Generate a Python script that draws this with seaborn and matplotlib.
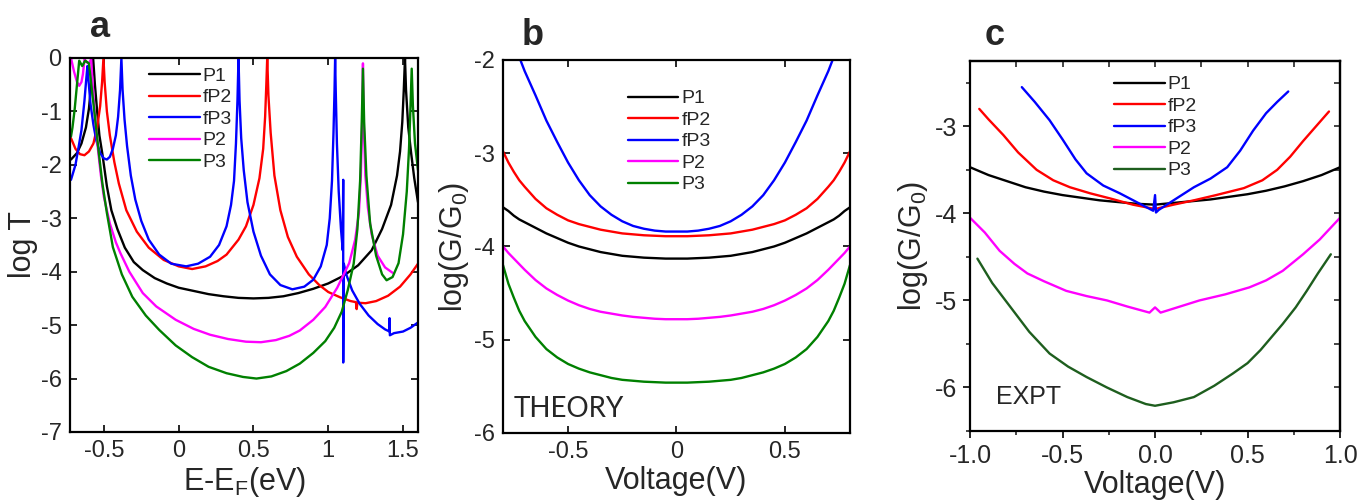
import numpy as np
import pandas as pd
import matplotlib
matplotlib.use("Agg")
import matplotlib.pyplot as plt
from matplotlib.ticker import MultipleLocator, FormatStrFormatter
import seaborn as sns

# ==========================
# data
# ==========================
labels = ["P1", "fP2", "fP3", "P2", "P3"]
colors_ab = ["#000000", "#ff0000", "#0000ff", "#ff00ff", "#008000"]
colors_c = ["#000000", "#ff0000", "#0000ff", "#ff00ff", "#1e5e1e"]

# panel a : log T vs E-EF
a_p1_x = [-0.72, -0.68, -0.65, -0.62, -0.60, -0.585, -0.572, -0.56, -0.545, -0.53, -0.51, -0.48, -0.45,
          -0.41, -0.36, -0.30, -0.24, -0.16, -0.08, 0.0, 0.1, 0.2, 0.3, 0.4, 0.5, 0.6, 0.7, 0.8, 0.9,
          1.0, 1.1, 1.2, 1.29, 1.36, 1.42, 1.46, 1.48, 1.495, 1.505, 1.513, 1.52, 1.535, 1.555, 1.575, 1.6]
a_p1_y = [-1.9, -1.78, -1.6, -1.3, -0.95, -0.5, 0.0, -0.5, -1.0, -1.45, -1.8, -2.4, -2.85,
          -3.2, -3.55, -3.82, -3.97, -4.12, -4.22, -4.3, -4.36, -4.42, -4.46, -4.49, -4.5, -4.49, -4.46, -4.4, -4.32,
          -4.22, -4.08, -3.88, -3.6, -3.2, -2.75, -2.2, -1.75, -1.2, -0.6, 0.0, -0.6, -1.3, -1.8, -2.25, -2.7]

a_fp2_x = [-0.72, -0.69, -0.66, -0.63, -0.60, -0.57, -0.545, -0.525, -0.512, -0.503, -0.495, -0.48, -0.46,
           -0.43, -0.40, -0.35, -0.28, -0.2, -0.1, 0.0, 0.09, 0.18, 0.26, 0.32, 0.40, 0.45, 0.50, 0.54,
           0.565, 0.578, 0.586, 0.592, 0.60, 0.615, 0.64, 0.68, 0.73, 0.79, 0.87, 0.94, 1.0, 1.08, 1.15,
           1.185, 1.19, 1.195, 1.25, 1.32, 1.4, 1.48, 1.55, 1.6]
a_fp2_y = [-1.5, -1.7, -1.8, -1.82, -1.75, -1.6, -1.3, -0.9, -0.45, 0.0, -0.45, -1.0, -1.45,
           -1.95, -2.35, -2.85, -3.25, -3.55, -3.78, -3.9, -3.95, -3.9, -3.8, -3.68, -3.4, -3.15, -2.75, -2.25,
           -1.7, -1.1, -0.5, 0.0, -0.7, -1.4, -2.2, -2.85, -3.35, -3.72, -4.05, -4.25, -4.38, -4.48, -4.55,
           -4.57, -4.7, -4.58, -4.59, -4.55, -4.45, -4.28, -4.05, -3.85]

a_fp3_x = [-0.72, -0.69, -0.665, -0.65, -0.63, -0.618, -0.61, -0.602, -0.59, -0.57, -0.55, -0.525, -0.5,
           -0.48, -0.46, -0.44, -0.42, -0.405, -0.392, -0.383, -0.375, -0.362, -0.345, -0.32, -0.29, -0.25,
           -0.2, -0.13, -0.05, 0.05, 0.13, 0.21, 0.27, 0.32, 0.35, 0.37, 0.383, 0.393, 0.4, 0.407, 0.418,
           0.435, 0.46, 0.5, 0.55, 0.61, 0.68, 0.76, 0.84, 0.9, 0.95, 0.99, 1.01, 1.025, 1.035, 1.042,
           1.046, 1.05, 1.058, 1.07, 1.085, 1.097, 1.1, 1.1, 1.104, 1.12, 1.16, 1.21, 1.27, 1.33, 1.38,
           1.41, 1.41, 1.412, 1.44, 1.5, 1.55, 1.6]
a_fp3_y = [-2.28, -2.0, -1.6, -1.35, -0.8, -0.4, -0.15, -0.45, -0.85, -1.25, -1.55, -1.78, -1.88,
           -1.9, -1.85, -1.7, -1.45, -1.1, -0.6, 0.0, -0.6, -1.15, -1.65, -2.2, -2.65, -3.05,
           -3.4, -3.68, -3.85, -3.9, -3.85, -3.72, -3.5, -3.15, -2.75, -2.3, -1.6, -0.8, 0.0, -0.8, -1.5,
           -2.1, -2.7, -3.25, -3.7, -4.05, -4.25, -4.33, -4.28, -4.15, -3.9, -3.5, -3.0, -2.3, -1.4, -0.6,
           0.0, -0.6, -1.6, -2.5, -3.2, -3.6, -2.28, -5.7, -3.85, -4.05, -4.35, -4.6, -4.82, -4.98, -5.08,
           -5.12, -4.87, -5.19, -5.15, -5.12, -5.05, -4.95]

a_p2_x = [-0.72, -0.70, -0.68, -0.665, -0.65, -0.64, -0.63, -0.615, -0.6, -0.585, -0.575, -0.56, -0.54,
          -0.52, -0.5, -0.46, -0.42, -0.39, -0.33, -0.24, -0.15, -0.02, 0.1, 0.21, 0.33, 0.45, 0.55, 0.65,
          0.74, 0.81, 0.9, 0.98, 1.06, 1.14, 1.18, 1.205, 1.218, 1.226, 1.232, 1.238, 1.248, 1.265, 1.29,
          1.33, 1.38, 1.43]
a_p2_y = [0.0, -0.25, -0.45, -0.52, -0.45, -0.3, -0.02, -0.08, -0.1, -0.02, -0.5, -1.1, -1.7,
          -2.2, -2.6, -3.1, -3.45, -3.65, -4.0, -4.4, -4.65, -4.9, -5.07, -5.18, -5.26, -5.31, -5.32, -5.28,
          -5.2, -5.1, -4.9, -4.66, -4.3, -3.84, -3.4, -2.9, -2.2, -1.3, -0.1, -1.3, -2.2, -2.8, -3.3,
          -3.7, -3.92, -4.02]

a_p3_x = [-0.72, -0.71, -0.695, -0.68, -0.665, -0.645, -0.625, -0.60, -0.58, -0.56, -0.535, -0.51, -0.48,
          -0.44, -0.38, -0.31, -0.22, -0.13, -0.02, 0.09, 0.2, 0.32, 0.43, 0.52, 0.62, 0.72, 0.81, 0.9,
          0.98, 1.04, 1.09, 1.13, 1.17, 1.195, 1.213, 1.224, 1.232, 1.24, 1.255, 1.28, 1.32, 1.36, 1.39,
          1.43, 1.47, 1.5, 1.525, 1.54, 1.55, 1.558, 1.566, 1.58, 1.6]
a_p3_y = [-1.47, -1.3, -0.95, -0.5, -0.05, -0.15, -0.05, -0.1, -0.6, -1.1, -1.75, -2.35, -2.9,
          -3.54, -4.05, -4.47, -4.82, -5.09, -5.38, -5.6, -5.78, -5.9, -5.97, -6.0, -5.96, -5.86, -5.72, -5.52,
          -5.3, -5.05, -4.75, -4.35, -3.85, -3.2, -2.3, -1.2, -0.2, -1.2, -2.2, -3.1, -3.7, -4.05, -4.16,
          -4.1, -3.84, -3.3, -2.5, -1.7, -0.9, -0.2, -0.9, -1.6, -2.1]

# panel b : theory log(G/G0) vs voltage
b_x = [-0.8, -0.775, -0.75, -0.725, -0.7, -0.65, -0.6, -0.55, -0.5, -0.45, -0.4, -0.35, -0.3, -0.25,
       -0.2, -0.15, -0.1, -0.05, 0.0, 0.05, 0.1, 0.15, 0.2, 0.25, 0.3, 0.35, 0.4, 0.45, 0.5, 0.55,
       0.6, 0.65, 0.7, 0.725, 0.75, 0.775, 0.8]
b_p1 = [-3.58, -3.62, -3.67, -3.71, -3.74, -3.8, -3.86, -3.91, -3.96, -4.0, -4.03, -4.06, -4.08, -4.1,
        -4.11, -4.12, -4.125, -4.13, -4.13, -4.13, -4.125, -4.12, -4.11, -4.1, -4.08, -4.06, -4.03, -4.0,
        -3.96, -3.91, -3.86, -3.8, -3.74, -3.71, -3.67, -3.62, -3.58]
b_fp2 = [-2.98, -3.1, -3.2, -3.29, -3.36, -3.49, -3.59, -3.66, -3.72, -3.76, -3.79, -3.82, -3.84, -3.86,
         -3.87, -3.88, -3.885, -3.89, -3.89, -3.89, -3.885, -3.88, -3.87, -3.86, -3.84, -3.82, -3.79, -3.76,
         -3.72, -3.66, -3.59, -3.49, -3.36, -3.29, -3.2, -3.1, -2.98]
b_fp3_x = [-0.72, -0.7, -0.65, -0.6, -0.55, -0.5, -0.45, -0.4, -0.35, -0.3, -0.25, -0.2, -0.15, -0.1,
           -0.05, 0.0, 0.05, 0.1, 0.15, 0.2, 0.25, 0.3, 0.35, 0.4, 0.45, 0.5, 0.55, 0.6, 0.65, 0.7, 0.72]
b_fp3 = [-2.0, -2.12, -2.38, -2.65, -2.88, -3.1, -3.29, -3.45, -3.57, -3.66, -3.73, -3.78, -3.81, -3.83,
         -3.84, -3.84, -3.84, -3.83, -3.81, -3.78, -3.73, -3.66, -3.57, -3.45, -3.29, -3.1, -2.88, -2.65,
         -2.38, -2.12, -2.0]
b_p2 = [-4.0, -4.07, -4.13, -4.19, -4.25, -4.36, -4.45, -4.52, -4.58, -4.63, -4.67, -4.7, -4.72, -4.74,
        -4.755, -4.765, -4.775, -4.78, -4.78, -4.78, -4.775, -4.765, -4.755, -4.74, -4.72, -4.7, -4.67,
        -4.63, -4.58, -4.52, -4.45, -4.36, -4.25, -4.19, -4.13, -4.07, -4.0]
b_p3 = [-4.2, -4.4, -4.55, -4.69, -4.8, -4.97, -5.1, -5.19, -5.26, -5.31, -5.35, -5.38, -5.41, -5.43,
        -5.44, -5.45, -5.455, -5.46, -5.46, -5.46, -5.455, -5.45, -5.44, -5.43, -5.41, -5.38, -5.35,
        -5.31, -5.26, -5.19, -5.1, -4.97, -4.8, -4.69, -4.55, -4.4, -4.2]

# panel c : experiment log(G/G0) vs voltage
c_p1_x = [-1.0, -0.9, -0.8, -0.7, -0.6, -0.5, -0.4, -0.3, -0.2, -0.1, 0.0,
          0.1, 0.2, 0.3, 0.4, 0.5, 0.6, 0.7, 0.8, 0.9, 1.0]
c_p1 = [-3.47, -3.56, -3.63, -3.7, -3.75, -3.79, -3.82, -3.85, -3.87, -3.89, -3.9,
        -3.88, -3.86, -3.84, -3.81, -3.78, -3.74, -3.69, -3.63, -3.56, -3.47]
c_fp2_x = [-0.95, -0.9, -0.82, -0.74, -0.64, -0.55, -0.46, -0.35, -0.24, -0.12, 0.0,
           0.1, 0.21, 0.33, 0.48, 0.58, 0.66, 0.73, 0.8, 0.87, 0.94]
c_fp2 = [-2.8, -2.92, -3.1, -3.3, -3.5, -3.62, -3.7, -3.77, -3.83, -3.9, -3.95,
         -3.9, -3.85, -3.79, -3.71, -3.62, -3.5, -3.35, -3.17, -3.0, -2.83]
c_fp3_x = [-0.72, -0.65, -0.57, -0.5, -0.43, -0.37, -0.28, -0.19, -0.1, -0.01, 0.0, 0.005,
           0.02, 0.1, 0.21, 0.3, 0.39, 0.46, 0.53, 0.6, 0.66, 0.72]
c_fp3 = [-2.55, -2.72, -2.93, -3.15, -3.38, -3.54, -3.68, -3.77, -3.87, -3.97, -3.79, -3.99,
         -3.96, -3.85, -3.7, -3.6, -3.47, -3.28, -3.05, -2.85, -2.72, -2.6]
c_p2_x = [-1.0, -0.92, -0.84, -0.76, -0.69, -0.6, -0.48, -0.37, -0.26, -0.15, -0.03, 0.0, 0.03,
          0.12, 0.24, 0.38, 0.51, 0.6, 0.69, 0.8, 0.89, 1.0]
c_p2 = [-4.05, -4.22, -4.43, -4.58, -4.69, -4.78, -4.89, -4.95, -5.0, -5.07, -5.14, -5.08, -5.14,
        -5.08, -5.0, -4.93, -4.85, -4.77, -4.66, -4.47, -4.3, -4.05]
c_p3_x = [-0.96, -0.88, -0.78, -0.68, -0.57, -0.47, -0.37, -0.26, -0.15, -0.05, 0.0,
          0.1, 0.21, 0.32, 0.42, 0.5, 0.57, 0.63, 0.69, 0.76, 0.82, 0.88, 0.95]
c_p3 = [-4.52, -4.8, -5.08, -5.36, -5.61, -5.76, -5.88, -6.0, -6.11, -6.19, -6.21,
        -6.17, -6.11, -5.98, -5.84, -5.72, -5.57, -5.42, -5.27, -5.08, -4.89, -4.69, -4.47]


def long_df(pairs):
    frames = []
    for name, (xs, ys) in zip(labels, pairs):
        frames.append(pd.DataFrame({"x": xs, "y": ys, "curve": name}))
    return pd.concat(frames, ignore_index=True)


df_a = long_df([(a_p1_x, a_p1_y), (a_fp2_x, a_fp2_y), (a_fp3_x, a_fp3_y), (a_p2_x, a_p2_y), (a_p3_x, a_p3_y)])
df_b = long_df([(b_x, b_p1), (b_x, b_fp2), (b_fp3_x, b_fp3), (b_x, b_p2), (b_x, b_p3)])
df_c = long_df([(c_p1_x, c_p1), (c_fp2_x, c_fp2), (c_fp3_x, c_fp3), (c_p2_x, c_p2), (c_p3_x, c_p3)])

# ==========================
# style
# ==========================
sns.set_style("ticks")
plt.rcParams["font.family"] = ["Liberation Sans", "DejaVu Sans"]
plt.rcParams["mathtext.default"] = "regular"
plt.rcParams["axes.linewidth"] = 1.6

fig = plt.figure(figsize=(13.58, 5.03), dpi=100)
ax_a = fig.add_axes([0.0515, 0.1412, 0.2563, 0.7435])
ax_b = fig.add_axes([0.3704, 0.1392, 0.2555, 0.7416])
ax_c = fig.add_axes([0.7143, 0.1431, 0.2725, 0.7356])

lw = 1.7
for ax, df, pal in [(ax_a, df_a, colors_ab), (ax_b, df_b, colors_ab), (ax_c, df_c, colors_c)]:
    sns.lineplot(data=df, x="x", y="y", hue="curve", hue_order=labels, palette=pal,
                 sort=False, estimator=None, linewidth=lw, ax=ax)
    for s in ax.spines.values():
        s.set_visible(True)
        s.set_color("black")
        s.set_linewidth(1.6)
    ax.set_facecolor("white")

# panel a
ax_a.set_xlim(-0.727, 1.6)
ax_a.set_ylim(-7, 0)
ax_a.set_xticks([-0.5, 0, 0.5, 1, 1.5])
ax_a.set_xticklabels(["-0.5", "0", "0.5", "1", "1.5"])
ax_a.set_yticks(range(-7, 1))
ax_a.set_yticklabels([str(v) for v in range(-7, 1)])
ax_a.set_xlabel("E-E$_F$(eV)", fontsize=22, labelpad=2)
ax_a.set_ylabel("log T", fontsize=22, labelpad=2)

# panel b
ax_b.set_xlim(-0.8, 0.8)
ax_b.set_ylim(-6, -2)
ax_b.set_xticks([-0.5, 0, 0.5])
ax_b.set_xticklabels(["-0.5", "0", "0.5"])
ax_b.set_yticks([-6, -5, -4, -3, -2])
ax_b.set_yticklabels(["-6", "-5", "-4", "-3", "-2"])
ax_b.set_xlabel("Voltage(V)", fontsize=22, labelpad=2)
ax_b.set_ylabel("log(G/G$_0$)", fontsize=22, labelpad=2)
ax_b.text(0.03, 0.03, "THEORY", transform=ax_b.transAxes, fontsize=20,
          family=["Lato", "DejaVu Sans"], ha="left", va="bottom")

for ax in (ax_a, ax_b):
    ax.tick_params(which="both", direction="in", top=True, right=True, length=5, width=1.4,
                   labelsize=17, pad=6)

# panel c
ax_c.set_xlim(-1.0, 1.0)
ax_c.set_ylim(-6.5, -2.25)
ax_c.xaxis.set_major_locator(MultipleLocator(0.5))
ax_c.xaxis.set_minor_locator(MultipleLocator(0.25))
ax_c.xaxis.set_major_formatter(FormatStrFormatter("%.1f"))
ax_c.yaxis.set_major_locator(MultipleLocator(1))
ax_c.yaxis.set_minor_locator(MultipleLocator(0.5))
ax_c.yaxis.set_major_formatter(FormatStrFormatter("%d"))
ax_c.tick_params(which="major", direction="out", length=5, width=1.4, labelsize=18, pad=4)
ax_c.tick_params(which="minor", direction="out", length=3, width=1.2)
ax_c.set_xlabel("Voltage(V)", fontsize=22, labelpad=2)
ax_c.set_ylabel("log(G/G$_0$)", fontsize=22, labelpad=4)
ax_c.text(0.07, 0.06, "EXPT", transform=ax_c.transAxes, fontsize=18, ha="left", va="bottom")
top_c = ax_c.secondary_xaxis("top")
top_c.xaxis.set_major_locator(MultipleLocator(0.5))
top_c.xaxis.set_minor_locator(MultipleLocator(0.25))
top_c.tick_params(which="both", direction="in", labeltop=False, length=4, width=1.2)
right_c = ax_c.secondary_yaxis("right")
right_c.yaxis.set_major_locator(MultipleLocator(1))
right_c.yaxis.set_minor_locator(MultipleLocator(0.5))
right_c.tick_params(which="both", direction="in", labelright=False, length=4, width=1.2)

# legends
leg_pos = {ax_a: (0.227, 0.975), ax_b: (0.36, 0.92), ax_c: (0.39, 0.96)}
for ax, pos in leg_pos.items():
    ax.legend(title=None, loc="upper left", bbox_to_anchor=pos, frameon=False, fontsize=14,
              handlelength=2.6, handletextpad=0.15, labelspacing=0.2, borderpad=0, borderaxespad=0)

# panel letters
for xp, yp, letter in [(90, 37, "a"), (522, 45, "b"), (985, 45, "c")]:
    fig.text(xp / 1358, 1 - yp / 503, letter, fontsize=26, fontweight="bold", ha="left", va="baseline")

fig.savefig("out.png", dpi=100, facecolor="white")
